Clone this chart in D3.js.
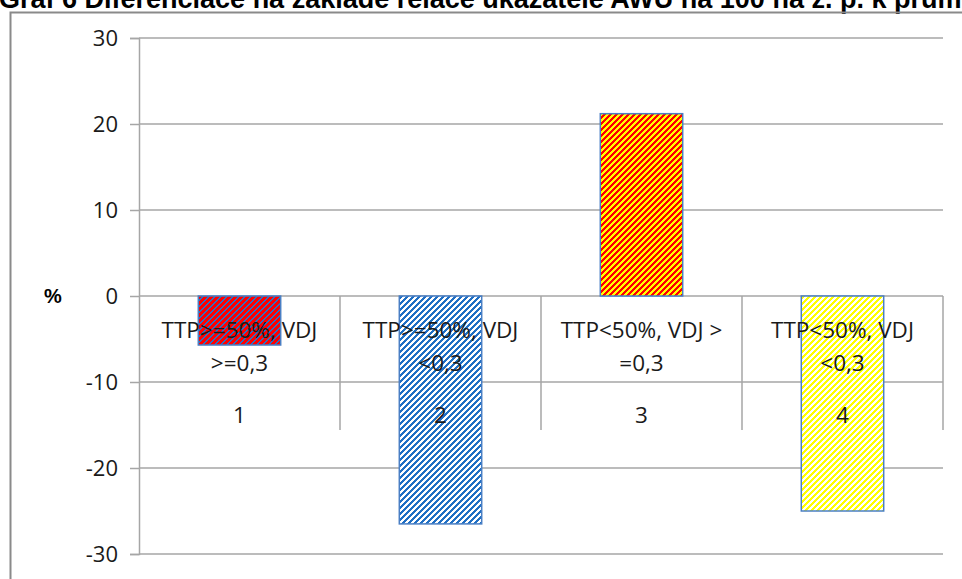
<!DOCTYPE html>
<html><head><meta charset="utf-8">
<script src="https://cdn.jsdelivr.net/npm/d3@7"></script>
<style>html,body{margin:0;padding:0;background:#fff;overflow:hidden}</style>
</head><body>
<svg id="c" width="962" height="579"></svg>
<script>
const titleText = "Graf 6 Diferenciace na základě relace ukazatele AWU na 100 ha z. p. k průměru";
const categoryLine1 = ["TTP>=50%, VDJ", "TTP>=50%, VDJ", "TTP<50%, VDJ >", "TTP<50%, VDJ"];
const categoryLine2 = [">=0,3", "<0,3", "=0,3", "<0,3"];
const categoryNumbers = ["1", "2", "3", "4"];
const values = [-5.7, -26.5, 21.2, -25.0];
const yTicks = [-30, -20, -10, 0, 10, 20, 30];
const stripeBg = ["#ff0000", "#ffffff", "#ff0000", "#ffffff"];
const stripeFg = ["#2a72c4", "#1f6fc4", "#ffff00", "#ffff00"];
const stripeWidth = [2, 3, 3, 3];

const svg = d3.select("#c");
const W = 962, H = 579;
const L = 139, R = 943, T = 38, B = 554;
const gridColor = "#a6a6a6";

const y = d3.scaleLinear().domain([-30, 30]).range([B, T]);
const x = d3.scaleBand().domain(categoryNumbers).range([L, R]).padding(0);
const barW = x.bandwidth() * 0.41;

// title (partially clipped at the top, as in the reference)
svg.append("text").attr("x", -1).attr("y", 8)
  .attr("font-family", "Liberation Sans, Arial, sans-serif")
  .attr("font-weight", "bold").attr("font-size", 27).attr("fill", "#000")
  .text(titleText);

// chart frame
svg.append("path").attr("d", `M10.5,${H} L10.5,12.5 L${W},12.5`)
  .attr("fill", "none").attr("stroke", "#8a8a8a").attr("stroke-width", 2);

// patterns: pixel-stepped "/" diagonal stripes, 6px period
const defs = svg.append("defs");
const P = 6;
values.forEach((v, i) => {
  let d = "";
  for (let r = 0; r < P; r++) for (let c = 0; c < P; c++)
    if ((c + r) % P < stripeWidth[i]) d += `M${c},${r}h1v1h-1z`;
  const p = defs.append("pattern").attr("id", "pat" + i)
    .attr("patternUnits", "userSpaceOnUse").attr("x", 0).attr("y", 0)
    .attr("width", P).attr("height", P);
  p.append("rect").attr("width", P).attr("height", P).attr("fill", stripeBg[i]);
  p.append("path").attr("d", d).attr("fill", stripeFg[i]);
});

// gridlines
svg.append("g").selectAll("line").data(yTicks).join("line")
  .attr("x1", L).attr("x2", R).attr("y1", d => y(d)).attr("y2", d => y(d))
  .attr("stroke", gridColor).attr("stroke-width", 1.5);

// y axis
const yAxis = d3.axisLeft(y).tickValues(yTicks).tickSize(9).tickPadding(12).tickFormat(d => String(d));
const gy = svg.append("g").attr("transform", `translate(${L},0)`).call(yAxis);
gy.select(".domain").attr("stroke", gridColor).attr("stroke-width", 1.5);
gy.selectAll(".tick line").attr("stroke", gridColor).attr("stroke-width", 1.5);
gy.selectAll(".tick text").attr("font-family", "Open Sans, sans-serif").attr("font-size", 22).attr("fill", "#1a1a1a");

// unit label
svg.append("text").attr("x", 53).attr("y", y(0)).attr("dy", "0.35em")
  .attr("text-anchor", "middle").attr("font-family", "Liberation Sans, Arial, sans-serif")
  .attr("font-weight", "bold").attr("font-size", 20).text("%");

// category table lines
const tableTop = y(0), tableBottom = 430;
svg.append("g").selectAll("line").data(categoryNumbers).join("line")
  .attr("x1", d => x(d) + x.bandwidth()).attr("x2", d => x(d) + x.bandwidth())
  .attr("y1", tableTop).attr("y2", tableBottom)
  .attr("stroke", gridColor).attr("stroke-width", 1.5);

// bars
svg.append("g").selectAll("rect").data(values).join("rect")
  .attr("x", (d, i) => x(categoryNumbers[i]) + x.bandwidth() / 2 - barW / 2)
  .attr("y", d => y(Math.max(0, d)))
  .attr("width", barW)
  .attr("height", d => Math.abs(y(d) - y(0)))
  .attr("fill", (d, i) => `url(#pat${i})`)
  .attr("stroke", "#4a7fc4").attr("stroke-width", 1.5);

// category labels (drawn over bars)
const lbl = svg.append("g").attr("font-family", "Open Sans, sans-serif").attr("font-size", 22.5)
  .attr("fill", "#1a1a1a").attr("text-anchor", "middle");
lbl.selectAll("text.l1").data(categoryLine1).join("text").attr("class", "l1")
  .attr("x", (d, i) => x(categoryNumbers[i]) + x.bandwidth() / 2).attr("y", 338).text(d => d);
lbl.selectAll("text.l2").data(categoryLine2).join("text").attr("class", "l2")
  .attr("x", (d, i) => x(categoryNumbers[i]) + x.bandwidth() / 2).attr("y", 371).text(d => d);
lbl.selectAll("text.n").data(categoryNumbers).join("text").attr("class", "n")
  .attr("x", d => x(d) + x.bandwidth() / 2).attr("y", 423).text(d => d);
</script>
</body></html>
